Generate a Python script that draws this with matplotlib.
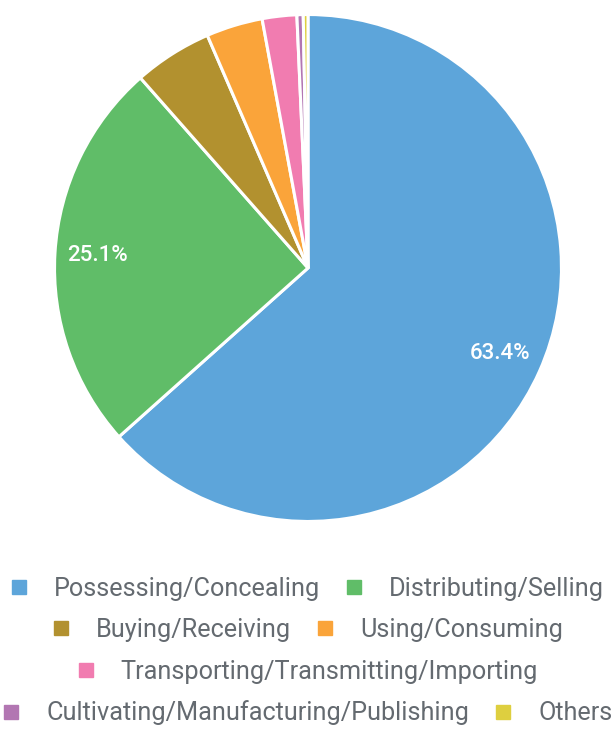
import matplotlib
matplotlib.use("Agg")
import matplotlib.pyplot as plt
from matplotlib.lines import Line2D

plt.rcParams['font.family'] = ['Roboto', 'DejaVu Sans']

categories = ["Possessing/Concealing", "Distributing/Selling", "Buying/Receiving",
              "Using/Consuming", "Transporting/Transmitting/Importing",
              "Cultivating/Manufacturing/Publishing", "Others"]
values = [63.4, 25.1, 5.0, 3.6, 2.2, 0.4, 0.3]
colors = ["#5DA5DA", "#60BD68", "#B2912F", "#FAA43A", "#F17CB0", "#B276B2", "#DECF3F"]
legend_rows = [[0, 1], [2, 3], [4], [5, 6]]

W, H = 616, 732
fig = plt.figure(figsize=(W / 100, H / 100), dpi=100)
cx, cy, r = 308, 268, 256
ax = fig.add_axes([(cx - r) / W, 1 - (cy + r) / H, 2 * r / W, 2 * r / H])

def fmt(p):
    return f"{p:.1f}%" if p >= 10 else ""

wedges, texts, autotexts = ax.pie(
    values, colors=colors, startangle=90, counterclock=False,
    autopct=fmt, pctdistance=0.83,
    wedgeprops=dict(edgecolor="white", linewidth=2.2),
    textprops=dict(color="white", fontsize=16, fontweight="medium"))
ax.set_xlim(-1.01, 1.01)
ax.set_ylim(-1.01, 1.01)
ax.axis("off")

row_y = [589, 630, 672, 713]
for row, y in zip(legend_rows, row_y):
    handles = [Line2D([], [], linestyle="none", marker="s", markersize=9.5,
                      markerfacecolor=colors[i], markeredgecolor=colors[i])
               for i in row]
    labels = [categories[i] for i in row]
    fig.legend(handles, labels, loc="center", bbox_to_anchor=(0.5, 1 - y / H),
               ncol=len(row), frameon=False, fontsize=18.2,
               handlelength=0.6, handletextpad=1.08, columnspacing=1.05,
               labelcolor="#646a70", borderpad=0, borderaxespad=0)

fig.savefig("out.png", dpi=100, facecolor="white")
